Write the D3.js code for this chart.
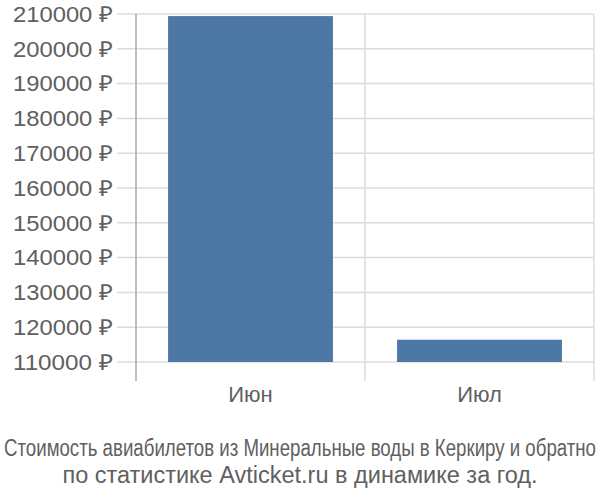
<!DOCTYPE html>
<html><head><meta charset="utf-8">
<script src="https://cdn.jsdelivr.net/npm/d3@7"></script>
<style>body{margin:0;background:#fff}svg{display:block}</style>
</head><body>
<svg id="c" width="600" height="500"></svg>
<script>
const categories = ["Июн", "Июл"];
const values = [209400, 116400];
const yTicks = [110000,120000,130000,140000,150000,160000,170000,180000,190000,200000,210000];
const titleLines = ["Стоимость авиабилетов из Минеральные воды в Керкиру и обратно", "по статистике Avticket.ru в динамике за год."];

(function(){
const svg = d3.select("#c");
const pL = 136, pR = 594, pT = 14, pB = 362;
const y = d3.scaleLinear().domain([110000, 210000]).range([pB, pT]);
const x = d3.scaleBand().domain(categories).range([pL, pR]).paddingInner(0.28).paddingOuter(0.14);
const xb = d3.scaleBand().domain(categories).range([pL, pR]);

svg.append("g").selectAll("line").data(yTicks).join("line")
  .attr("x1", 117).attr("x2", pR).attr("y1", d => y(d)).attr("y2", d => y(d))
  .attr("stroke", "#dcdcdc").attr("stroke-width", 1.5);

svg.append("g").selectAll("line").data(categories.map(c => xb(c) + xb.bandwidth())).join("line")
  .attr("x1", d => d).attr("x2", d => d).attr("y1", pT).attr("y2", 381)
  .attr("stroke", "#dcdcdc").attr("stroke-width", 1.5);

svg.append("g").selectAll("rect").data(values).join("rect")
  .attr("x", (d,i) => x(categories[i]))
  .attr("width", x.bandwidth())
  .attr("y", d => y(d))
  .attr("height", d => y(110000) - y(d))
  .attr("fill", "#4d78a5");

svg.append("line").attr("x1", pL).attr("x2", pL).attr("y1", pT).attr("y2", 381)
  .attr("stroke", "#aaaaaa").attr("stroke-width", 1.5);

svg.append("g").selectAll("text").data(yTicks).join("text")
  .attr("x", 113).attr("y", d => y(d)).attr("dy", "0.35em")
  .attr("text-anchor", "end")
  .attr("font-family", "Liberation Sans, Arial, sans-serif").attr("font-size", 22)
  .attr("textLength", 100).attr("lengthAdjust", "spacingAndGlyphs")
  .attr("fill", "#606060")
  .text(d => d + " ₽");

svg.append("g").selectAll("text").data(categories).join("text")
  .attr("x", d => xb(d) + xb.bandwidth()/2).attr("y", 402)
  .attr("text-anchor", "middle")
  .attr("font-family", "Liberation Sans, Arial, sans-serif").attr("font-size", 22)
  .attr("fill", "#606060")
  .text(d => d);

const t1 = svg.append("text").attr("x", 0).attr("y", 0).attr("text-anchor", "middle")
  .attr("font-family", "Liberation Sans Narrow, Liberation Sans, Arial, sans-serif").attr("font-size", 23)
  .attr("fill", "#606060")
  .text(titleLines[0]);
const w1 = t1.node().getComputedTextLength();
const sx = Math.min(1, 592 / w1);
t1.attr("transform", `translate(300,456) scale(${sx},1)`);

svg.append("text").attr("x", 300).attr("y", 483).attr("text-anchor", "middle")
  .attr("font-family", "Liberation Sans, Arial, sans-serif").attr("font-size", 23.5)
  .attr("fill", "#606060")
  .text(titleLines[1]);
})();
</script>
</body></html>
